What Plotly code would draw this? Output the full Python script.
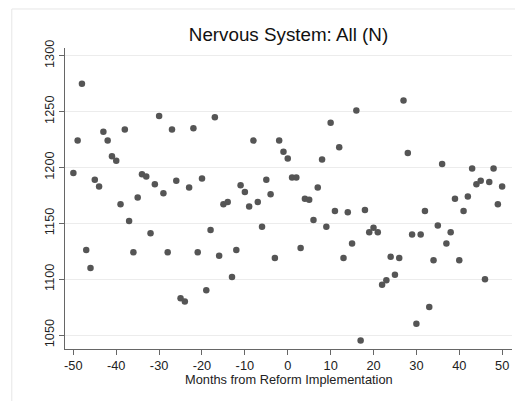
import plotly.graph_objects as go

months = list(range(-50, 51))
values = [1195, 1224, 1275, 1126, 1110, 1189, 1183, 1232, 1224, 1210,
          1206, 1167, 1234, 1152, 1124, 1173, 1194, 1192, 1141, 1185,
          1246, 1177, 1124, 1234, 1188, 1083, 1080, 1182, 1235, 1124,
          1190, 1090, 1144, 1245, 1121, 1167, 1169, 1102, 1126, 1184,
          1178, 1165, 1224, 1169, 1147, 1189, 1176, 1119, 1224, 1214,
          1208, 1191, 1191, 1128, 1172, 1171, 1153, 1182, 1207, 1147,
          1240, 1161, 1218, 1119, 1160, 1132, 1251, 1045, 1162, 1142,
          1146, 1142, 1095, 1099, 1120, 1104, 1119, 1260, 1213, 1140,
          1060, 1140, 1161, 1075, 1117, 1148, 1203, 1132, 1142, 1172,
          1117, 1161, 1174, 1199, 1185, 1188, 1100, 1187, 1199, 1167,
          1183]

x_ticks = [-50, -40, -30, -20, -10, 0, 10, 20, 30, 40, 50]
x_tick_labels = ["-50", "-40", "-30", "-20", "-10", "0", "10", "20", "30", "40", "50"]
y_ticks = [1050, 1100, 1150, 1200, 1250, 1300]

FONT = "Liberation Sans, Arial, sans-serif"

fig = go.Figure()
fig.add_trace(go.Scatter(
    x=months, y=values, mode="markers",
    marker=dict(size=6.5, color="#555555", line=dict(width=0)),
    showlegend=False,
))

fig.update_layout(
    width=515, height=401,
    margin=dict(l=65, r=3, t=48, b=52),
    paper_bgcolor="white", plot_bgcolor="white",
    font=dict(family=FONT, size=12.5, color="#222222"),
    title=dict(text="Nervous System: All (N)", x=0.5, xref="paper",
               y=1 - 34 / 401, yref="container", yanchor="middle", xanchor="center",
               font=dict(size=18.8, color="#111111", family=FONT)),
    xaxis=dict(range=[-51.95, 52.3], tickvals=x_ticks, ticktext=x_tick_labels,
               showgrid=False, zeroline=False, showline=True, linecolor="#666666",
               linewidth=1, ticks="outside", ticklen=5, tickcolor="#666666",
               tickfont=dict(size=12.8, color="#222222")),
    yaxis=dict(range=[1037.5, 1306.9], tickvals=y_ticks, showgrid=True,
               gridcolor="#ececec", gridwidth=1, zeroline=False, showline=True,
               linecolor="#666666", linewidth=1, ticks="outside", ticklen=5,
               tickcolor="#666666", tickangle=-90,
               tickfont=dict(size=12.8, color="#222222")),
    shapes=[dict(type="rect", xref="paper", yref="paper",
                 x0=-0.119, y0=-0.3, x1=1.2, y1=1.1296,
                 line=dict(color="#e6e6e6", width=1), layer="below")],
    annotations=[dict(text="Months from Reform Implementation", xref="paper", yref="paper",
                      x=0.5, y=-0.102, xanchor="center", yanchor="middle",
                      showarrow=False, font=dict(size=12.8, color="#222222", family=FONT))],
)

fig.write_html("out.html")
